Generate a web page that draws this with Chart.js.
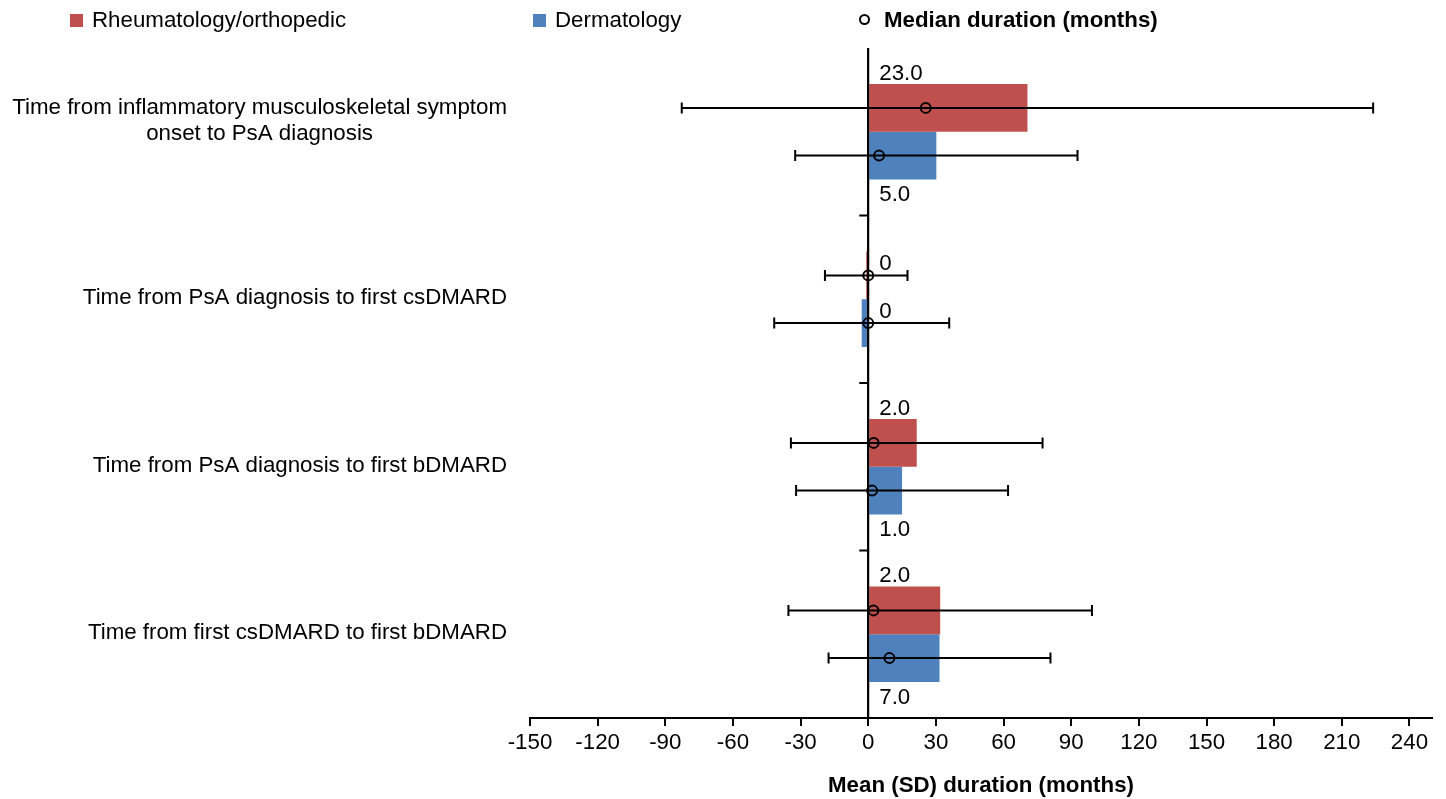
<!DOCTYPE html>
<html>
<head>
<meta charset="utf-8">
<script src="https://cdn.jsdelivr.net/npm/chart.js@4.4.1/dist/chart.umd.min.js"></script>
<style>
html,body{margin:0;padding:0;background:#fff;}
#wrap{position:relative;width:1446px;height:799px;overflow:hidden;}
#c{position:absolute;left:0;top:0;}
.lg{position:absolute;font-family:"Liberation Sans",Arial,sans-serif;font-size:22.3px;line-height:26px;color:#000;white-space:nowrap;}
.sw{position:absolute;width:13px;height:13px;}
.mk{position:absolute;width:7px;height:7px;border:2px solid #000;border-radius:50%;}
</style>
</head>
<body>
<div id="wrap">
<canvas id="c" width="1446" height="799"></canvas>
<div class="sw" style="left:70px;top:14px;background:#C0504D"></div>
<div class="lg" style="left:92px;top:7px">Rheumatology/orthopedic</div>
<div class="sw" style="left:533px;top:14px;background:#4F81BD"></div>
<div class="lg" style="left:555px;top:7px">Dermatology</div>
<div class="mk" style="left:859px;top:14px"></div>
<div class="lg" style="left:884px;top:7px;font-weight:bold">Median duration (months)</div>
</div>
<script>
// ---- data ----
const categories = [
  ['Time from inflammatory musculoskeletal symptom', 'onset to PsA diagnosis'],
  'Time from PsA diagnosis to first csDMARD',
  'Time from PsA diagnosis to first bDMARD',
  'Time from first csDMARD to first bDMARD'
];
const seriesNames = ['Rheumatology/orthopedic', 'Dermatology'];
const rheumMean = [70.6, -0.9, 21.5, 31.9];
const rheumSD = [153.3, 18.3, 55.8, 67.3];
const rheumMedianMark = [25.5, 0, 2.4, 2.3];
const rheumMedianLabel = ['23.0', '0', '2.0', '2.0'];
const dermMean = [30.2, -2.9, 15.0, 31.6];
const dermSD = [62.6, 38.8, 47.0, 49.2];
const dermMedianMark = [4.8, 0, 1.7, 9.4];
const dermMedianLabel = ['5.0', '0', '1.0', '7.0'];
const xTickMin = -150, xTickMax = 250, xTickStep = 30;

// label placement relative to bar (style)
const rheumLabelPlace = ['above', 'inline', 'above', 'above'];
const dermLabelPlace = ['below', 'inline', 'below', 'below'];

const FONT = '"Liberation Sans", Arial, sans-serif';
const FS = 22.3;
const extras = [
  {sd: rheumSD, med: rheumMedianMark, lab: rheumMedianLabel, place: rheumLabelPlace},
  {sd: dermSD, med: dermMedianMark, lab: dermMedianLabel, place: dermLabelPlace}
];

const overlay = {
  id: 'overlay',
  afterDatasetsDraw(chart) {
    const ctx = chart.ctx;
    const xs = chart.scales.x, ys = chart.scales.y;
    const ca = chart.chartArea;
    const x0 = xs.getPixelForValue(0);
    ctx.save();
    ctx.strokeStyle = '#000';
    ctx.lineWidth = 2;
    // zero axis line
    ctx.beginPath();
    ctx.moveTo(x0, ca.top);
    ctx.lineTo(x0, ca.bottom);
    ctx.stroke();
    // category boundary ticks on zero axis
    for (let i = 0; i < categories.length - 1; i++) {
      const yb = (ys.getPixelForValue(i) + ys.getPixelForValue(i + 1)) / 2;
      ctx.beginPath();
      ctx.moveTo(x0 - 9, yb);
      ctx.lineTo(x0, yb);
      ctx.stroke();
    }
    chart.data.datasets.forEach((ds, di) => {
      const meta = chart.getDatasetMeta(di);
      const ex = extras[di];
      meta.data.forEach((bar, i) => {
        const mean = ds.data[i];
        const yc = bar.y;
        const xl = xs.getPixelForValue(mean - ex.sd[i]);
        const xr = xs.getPixelForValue(mean + ex.sd[i]);
        ctx.strokeStyle = '#000';
        ctx.lineWidth = 2;
        ctx.beginPath();
        ctx.moveTo(xl, yc); ctx.lineTo(xr, yc);
        ctx.moveTo(xl, yc - 5.5); ctx.lineTo(xl, yc + 5.5);
        ctx.moveTo(xr, yc - 5.5); ctx.lineTo(xr, yc + 5.5);
        ctx.stroke();
        // median marker
        const xm = xs.getPixelForValue(ex.med[i]);
        ctx.beginPath();
        ctx.arc(xm, yc, 5, 0, Math.PI * 2);
        ctx.stroke();
        // median label
        const h = bar.height;
        ctx.fillStyle = '#000';
        ctx.font = FS + 'px ' + FONT;
        ctx.textAlign = 'left';
        ctx.textBaseline = 'alphabetic';
        let ty;
        if (ex.place[i] === 'above') ty = yc - h / 2 - 4.5;
        else if (ex.place[i] === 'below') ty = yc + h / 2 + 22;
        else ty = yc - 5;
        ctx.fillText(ex.lab[i], x0 + 11, ty);
      });
    });
    ctx.restore();
  },
  afterDraw(chart) {
    // category labels: block right-aligned to the plot, lines centred within the block
    const ctx = chart.ctx;
    const ys = chart.scales.y;
    const ca = chart.chartArea;
    const right = ca.left - 23;
    const lh = 26.7, lift = 10;
    ctx.save();
    ctx.font = FS + 'px ' + FONT;
    ctx.fillStyle = '#000';
    ctx.textAlign = 'center';
    ctx.textBaseline = 'middle';
    categories.forEach((lab, i) => {
      const lines = Array.isArray(lab) ? lab : [lab];
      const widest = Math.max(...lines.map(l => ctx.measureText(l).width));
      const cx = right - widest / 2;
      const yc = ys.getPixelForValue(i) - 1 - (lines.length - 1) * lift;
      lines.forEach((l, k) => {
        ctx.fillText(l, cx, yc + (k - (lines.length - 1) / 2) * lh);
      });
    });
    ctx.restore();
  }
};

new Chart(document.getElementById('c'), {
  type: 'bar',
  data: {
    labels: categories,
    datasets: [
      {label: seriesNames[0], data: rheumMean, backgroundColor: '#C0504D', borderWidth: 0},
      {label: seriesNames[1], data: dermMean, backgroundColor: '#4F81BD', borderWidth: 0}
    ]
  },
  options: {
    indexAxis: 'y',
    responsive: false,
    animation: false,
    events: [],
    categoryPercentage: 0.57,
    barPercentage: 1.0,
    layout: {padding: {left: 12, right: 14, top: 48, bottom: 0}},
    plugins: {legend: {display: false}, tooltip: {enabled: false}},
    scales: {
      x: {
        type: 'linear',
        min: xTickMin, max: xTickMax,
        ticks: {
          stepSize: xTickStep, includeBounds: false, autoSkip: false, maxRotation: 0,
          color: '#000', padding: 3, font: {family: FONT, size: FS}
        },
        grid: {
          color: c => (c.tick && c.tick.value === 0) ? '#000' : 'rgba(0,0,0,0)',
          lineWidth: 2, tickColor: '#000', tickLength: 8, tickWidth: 2
        },
        border: {display: true, color: '#000', width: 2},
        title: {
          display: true, text: 'Mean (SD) duration (months)', color: '#000',
          font: {family: FONT, size: FS, weight: 'bold'}, padding: {top: 17, bottom: 0}
        },
        afterFit: s => { s.height = 81; }
      },
      y: {
        type: 'category',
        ticks: {display: false},
        grid: {display: false},
        border: {display: false},
        afterFit: s => { s.width = 518; }
      }
    }
  },
  plugins: [overlay]
});
</script>
</body>
</html>
